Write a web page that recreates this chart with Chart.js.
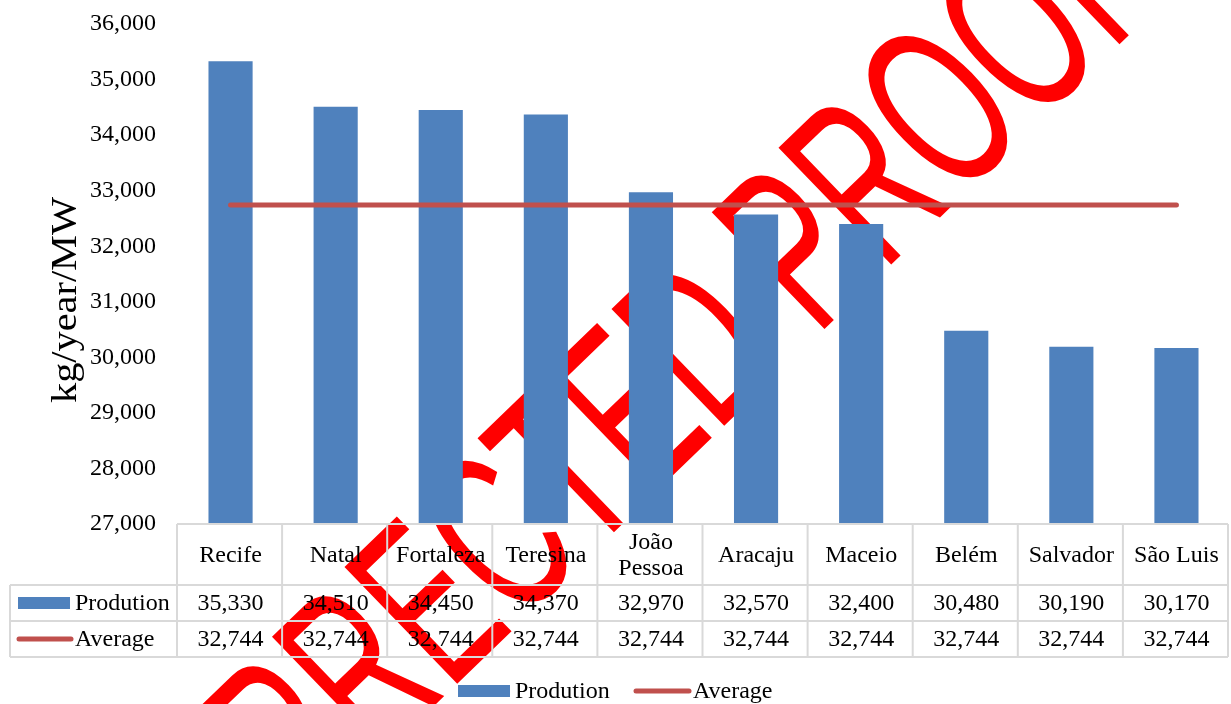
<!DOCTYPE html>
<html>
<head>
<meta charset="utf-8">
<script src="https://cdn.jsdelivr.net/npm/chart.js@4.4.1/dist/chart.umd.min.js"></script>
<style>
  html, body { margin: 0; padding: 0; background: #ffffff; }
  #wrap { width: 1231px; height: 704px; position: relative; }
</style>
</head>
<body>
<div id="wrap"><canvas id="chart" width="1231" height="704"></canvas></div>
<script>
// Annual production per installed MW in ten north-eastern Brazilian capitals
const cities = ['Recife', 'Natal', 'Fortaleza', 'Teresina', 'João Pessoa', 'Aracaju', 'Maceio', 'Belém', 'Salvador', 'São Luis'];
const production = [35330, 34510, 34450, 34370, 32970, 32570, 32400, 30480, 30190, 30170];
const average = [32744, 32744, 32744, 32744, 32744, 32744, 32744, 32744, 32744, 32744];
const seriesNames = ['Prodution', 'Average'];
const yMin = 27000;
const yMax = 36000;
const yStep = 1000;
const yTitle = 'kg/year/MW';
const stampText = 'CORRECTED PROOF';

const BAR_COLOR = '#4F81BD';
const LINE_COLOR = '#C0504D';
const GRID_COLOR = '#D9D9D9';
const SERIF = '"Liberation Serif", "Times New Roman", serif';
const FONT_PX = 24;

const fmt = v => v.toLocaleString('en-US');

// Proof stamp painted under the chart marks
function drawStamp(ctx) {
  ctx.save();
  ctx.translate(618, 438);
  ctx.rotate(-44 * Math.PI / 180);
  ctx.scale(0.59, 1);
  ctx.font = '236px "Liberation Sans", Arial, sans-serif';
  ctx.fillStyle = '#FF0000';
  ctx.textAlign = 'center';
  ctx.textBaseline = 'middle';
  ctx.fillText(stampText, 0, 0);
  ctx.restore();
}

function cellLines(ctx, text, maxW) {
  if (ctx.measureText(text).width <= maxW || text.indexOf(' ') < 0) return [text];
  return text.split(' ');
}

const sheetPlugin = {
  id: 'sheet',
  beforeDraw(chart) {
    const ctx = chart.ctx;
    ctx.save();
    ctx.fillStyle = '#ffffff';
    ctx.fillRect(0, 0, chart.width, chart.height);
    ctx.restore();
    drawStamp(ctx);
  },
  afterDraw(chart) {
    const ctx = chart.ctx;
    const area = chart.chartArea;
    const xs = chart.scales.x;
    const step = xs.getPixelForValue(1) - xs.getPixelForValue(0);
    const left = area.left - 1;
    const right = area.right - 1;
    const tableLeft = 10;
    const rowTop = area.bottom;
    const rowHead = rowTop + 61;
    const rowProd = rowHead + 36;
    const rowAvg = rowProd + 36;

    ctx.save();
    // grid of the data table
    ctx.strokeStyle = GRID_COLOR;
    ctx.lineWidth = 2;
    ctx.beginPath();
    ctx.moveTo(left, rowTop); ctx.lineTo(right, rowTop);
    [rowHead, rowProd, rowAvg].forEach(y => { ctx.moveTo(tableLeft, y); ctx.lineTo(right, y); });
    for (let i = 0; i <= cities.length; i++) {
      const x = i === cities.length ? right : xs.getPixelForValue(i) - step / 2 - 1;
      ctx.moveTo(x, rowTop); ctx.lineTo(x, rowAvg);
    }
    ctx.moveTo(tableLeft, rowHead); ctx.lineTo(tableLeft, rowAvg);
    ctx.stroke();

    // category, production and average cells
    ctx.fillStyle = '#000000';
    ctx.font = FONT_PX + 'px ' + SERIF;
    ctx.textAlign = 'center';
    ctx.textBaseline = 'middle';
    cities.forEach((name, i) => {
      const cx = xs.getPixelForValue(i);
      const lines = cellLines(ctx, name, step - 8);
      const mid = (rowTop + rowHead) / 2 + 1;
      const lh = 26;
      lines.forEach((ln, k) => {
        ctx.fillText(ln, cx, mid + (k - (lines.length - 1) / 2) * lh);
      });
      ctx.fillText(fmt(production[i]), cx, (rowHead + rowProd) / 2 + 1);
      ctx.fillText(fmt(average[i]), cx, (rowProd + rowAvg) / 2 + 1);
    });

    // series keys in the first column
    ctx.textAlign = 'left';
    ctx.fillStyle = BAR_COLOR;
    ctx.fillRect(18, (rowHead + rowProd) / 2 - 6, 52, 12);
    ctx.strokeStyle = LINE_COLOR;
    ctx.lineWidth = 5;
    ctx.lineCap = 'round';
    ctx.beginPath();
    ctx.moveTo(19, (rowProd + rowAvg) / 2);
    ctx.lineTo(71, (rowProd + rowAvg) / 2);
    ctx.stroke();
    ctx.fillStyle = '#000000';
    ctx.fillText(seriesNames[0], 75, (rowHead + rowProd) / 2 + 1);
    ctx.fillText(seriesNames[1], 75, (rowProd + rowAvg) / 2 + 1);

    // legend below the table
    const ly = 691;
    ctx.fillStyle = BAR_COLOR;
    ctx.fillRect(458, ly - 6, 52, 12);
    ctx.beginPath();
    ctx.moveTo(636, ly);
    ctx.lineTo(689, ly);
    ctx.stroke();
    ctx.fillStyle = '#000000';
    ctx.fillText(seriesNames[0], 515, ly + 1);
    ctx.fillText(seriesNames[1], 693, ly + 1);

    // value axis title
    ctx.translate(67, 300);
    ctx.rotate(-Math.PI / 2);
    ctx.scale(1.12, 1);
    ctx.textAlign = 'center';
    ctx.font = '36px ' + SERIF;
    ctx.fillText(yTitle, 0, 0);
    ctx.restore();
  }
};

new Chart(document.getElementById('chart'), {
  data: {
    labels: cities,
    datasets: [
      {
        type: 'line',
        label: seriesNames[1],
        data: average,
        borderColor: LINE_COLOR,
        backgroundColor: LINE_COLOR,
        borderWidth: 5,
        borderCapStyle: 'round',
        pointRadius: 0,
        pointHoverRadius: 0,
        order: 0
      },
      {
        type: 'bar',
        label: seriesNames[0],
        data: production,
        backgroundColor: BAR_COLOR,
        borderWidth: 0,
        barPercentage: 0.42,
        categoryPercentage: 1,
        order: 1
      }
    ]
  },
  options: {
    responsive: false,
    animation: false,
    layout: { padding: { left: 0, right: 2, top: 24, bottom: 180 } },
    plugins: {
      legend: { display: false },
      tooltip: { enabled: false },
      title: { display: false }
    },
    scales: {
      x: {
        type: 'category',
        display: false,
        offset: true
      },
      y: {
        min: yMin,
        max: yMax,
        border: { display: false },
        grid: { display: false, drawTicks: false },
        ticks: {
          stepSize: yStep,
          padding: 22,
          color: '#000000',
          font: { family: SERIF, size: FONT_PX },
          callback: v => fmt(v)
        },
        afterFit(scale) {
          scale.width = 178;
          scale.paddingTop = 0;
          scale.paddingBottom = 0;
        }
      }
    }
  },
  plugins: [sheetPlugin]
});
</script>
</body>
</html>
